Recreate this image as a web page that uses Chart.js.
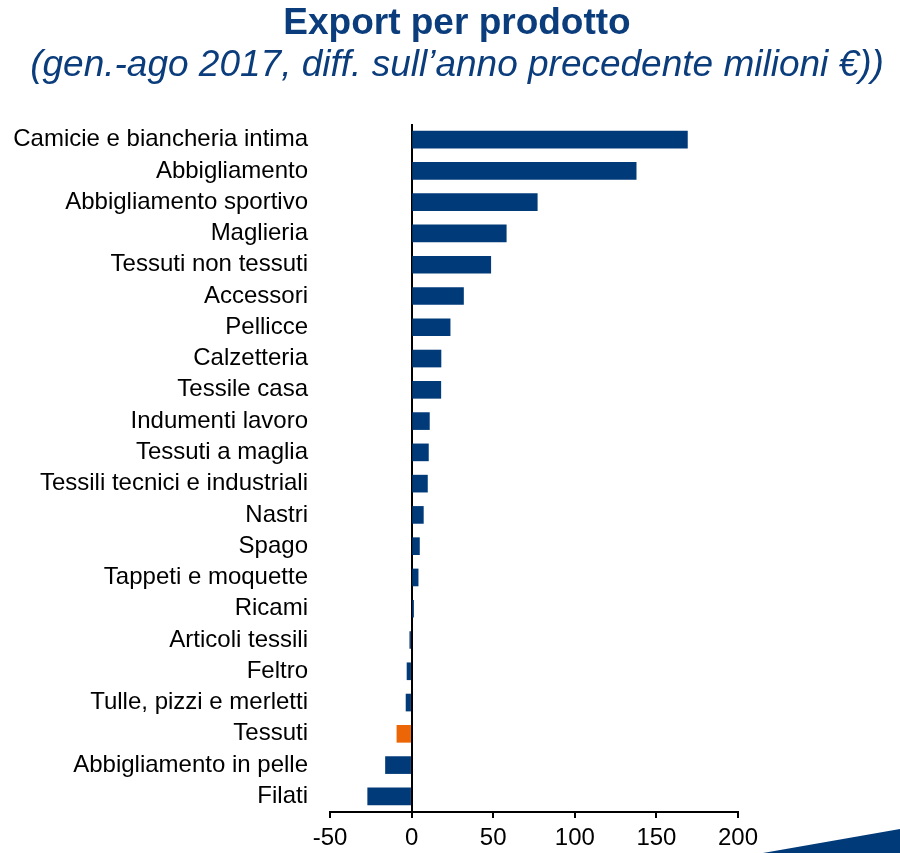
<!DOCTYPE html>
<html>
<head>
<meta charset="utf-8">
<script src="https://cdn.jsdelivr.net/npm/chart.js@4"></script>
<style>
  html, body { margin: 0; padding: 0; background: #fff; }
  #wrap { position: relative; width: 900px; height: 853px; overflow: hidden; }
  #chart { position: absolute; left: 0; top: 0; }
  .title { position: absolute; left: 14px; right: 0; text-align: center; color: #0B3D7C;
           font-family: "Liberation Sans", Arial, sans-serif; white-space: nowrap; }
  #t1 { top: 1px; font-size: 37px; font-weight: bold; }
  #t2 { top: 43px; font-size: 37px; font-style: italic; }
  #deco { position: absolute; left: 0; top: 0; }
</style>
</head>
<body>
<div id="wrap">
  <canvas id="chart" width="900" height="853"></canvas>
  <div class="title" id="t1">Export per prodotto</div>
  <div class="title" id="t2">(gen.-ago 2017, diff. sull’anno precedente milioni €))</div>
  <svg id="deco" width="900" height="853"><polygon points="763,853 900,829 900,853" fill="#003A78"/></svg>
</div>
<script>
// Data
const categories = [
  'Camicie e biancheria intima', 'Abbigliamento', 'Abbigliamento sportivo', 'Maglieria',
  'Tessuti non tessuti', 'Accessori', 'Pellicce', 'Calzetteria', 'Tessile casa',
  'Indumenti lavoro', 'Tessuti a maglia', 'Tessili tecnici e industriali', 'Nastri',
  'Spago', 'Tappeti e moquette', 'Ricami', 'Articoli tessili', 'Feltro',
  'Tulle, pizzi e merletti', 'Tessuti', 'Abbigliamento in pelle', 'Filati'
];
const diffValues = [169, 137.6, 77, 58, 48.5, 31.8, 23.6, 18, 17.9, 10.9, 10.3, 9.7, 7.2, 4.8, 4, 1.2, -1.1, -2.8, -3.4, -9, -16, -26.9];
const highlighted = ['Tessuti'];
const xTicks = [-50, 0, 50, 100, 150, 200];

const navy = '#003A78';
const orange = '#EC6608';
const font = '"Liberation Sans", Arial, sans-serif';

const barColors = categories.map(c => highlighted.includes(c) ? orange : navy);

new Chart(document.getElementById('chart').getContext('2d'), {
  type: 'bar',
  data: {
    labels: categories,
    datasets: [{ data: diffValues, backgroundColor: barColors, borderWidth: 0, barThickness: 17 }]
  },
  options: {
    indexAxis: 'y',
    responsive: false,
    animation: false,
    layout: { padding: { top: 124, right: 162, bottom: 0, left: 0 } },
    plugins: { legend: { display: false }, tooltip: { enabled: false } },
    scales: {
      x: {
        min: xTicks[0],
        max: xTicks[xTicks.length - 1],
        afterBuildTicks: axis => { axis.ticks = xTicks.map(v => ({ value: v })); },
        ticks: { color: '#000', font: { family: font, size: 24 }, padding: 6, maxRotation: 0 },
        grid: {
          color: ctx => ctx.tick && ctx.tick.value === 0 ? '#000' : 'rgba(0,0,0,0)',
          lineWidth: 2,
          tickColor: '#000',
          tickLength: 6,
          tickWidth: 2
        },
        border: { display: true, color: '#000', width: 2 },
        afterFit: scale => { scale.height = 41; }
      },
      y: {
        ticks: { color: '#000', font: { family: font, size: 24 }, padding: 14, autoSkip: false },
        grid: { display: false },
        border: { display: false },
        afterFit: scale => { scale.width = 330; }
      }
    }
  }
});
</script>
</body>
</html>
